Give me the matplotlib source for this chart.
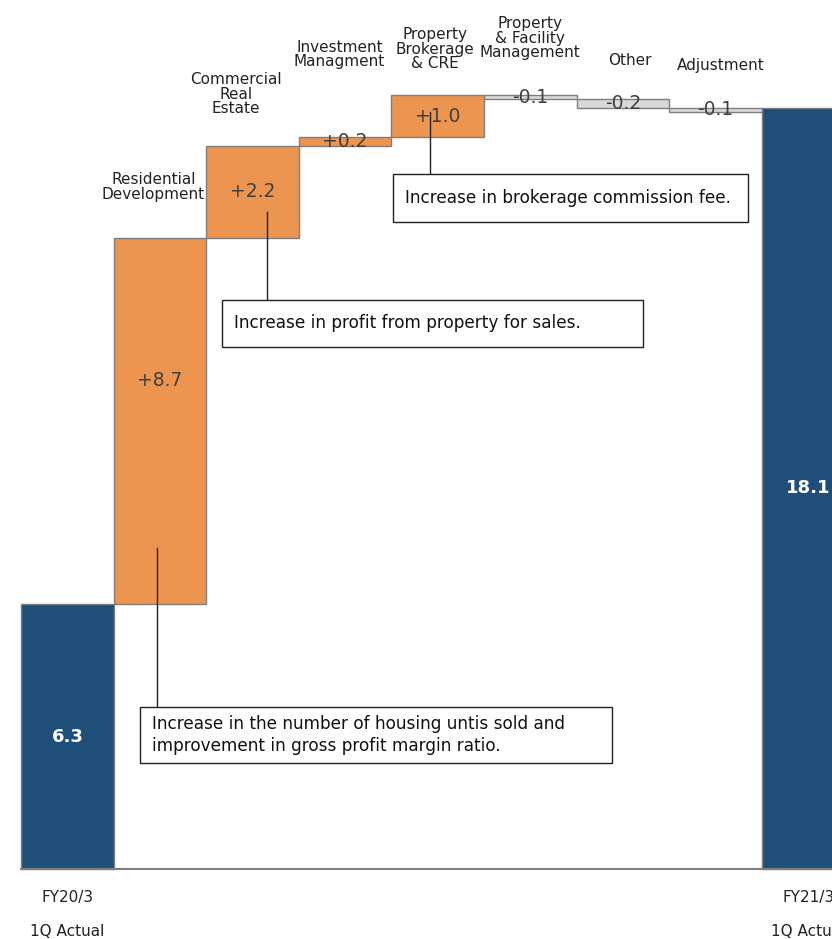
import numpy as np
import matplotlib.pyplot as plt
from matplotlib.patches import Rectangle

# Segment bridge: FY20/3 1Q -> FY21/3 1Q
start_value = 6.3
end_value = 18.1
segments = ["Residential\nDevelopment", "Commercial\nReal\nEstate",
            "Investment\nManagment", "Property\nBrokerage\n& CRE",
            "Property\n& Facility\nManagement", "Other", "Adjustment"]
changes = [8.7, 2.2, 0.2, 1.0, -0.1, -0.2, -0.1]
period_names = ["FY20/3", "FY21/3"]
period_sub = ["1Q Actual", "1Q Actual"]
notes = [
    "Increase in brokerage commission fee.",
    "Increase in profit from property for sales.",
    "Increase in the number of housing untis sold and\nimprovement in gross profit margin ratio.",
]

NAVY = "#1F4E79"
ORANGE = "#EB9550"
LIGHT = "#D9D9D9"
EDGE = "#7F7F7F"
TXT = "#404040"

plt.rcParams["font.family"] = ["DejaVu Sans"]
narrow = ["Liberation Sans Narrow", "DejaVu Sans"]

fig = plt.figure(figsize=(8.32, 9.39), dpi=100)
ax = fig.add_axes([0, 0, 1, 1])
ax.set_xlim(-0.727, 8.258)
ax.set_ylim(-1.664, 20.66)
ax.axis("off")

# totals
ax.bar(0, start_value, width=1.0, color=NAVY, edgecolor=EDGE, linewidth=1)
ax.bar(8, end_value, width=1.0, color=NAVY, edgecolor=EDGE, linewidth=1)
ax.text(0, start_value / 2, f"{start_value:.1f}", color="white", fontsize=13,
        fontweight="bold", ha="center", va="center")
ax.text(8, end_value / 2, f"{end_value:.1f}", color="white", fontsize=13,
        fontweight="bold", ha="center", va="center")

# floating steps
cum = np.concatenate([[start_value], start_value + np.cumsum(changes)])
label_frac = [0.61, 0.5, 0.5, 0.5, 0.5, 0.5, 0.5]
for i, d in enumerate(changes):
    x = i + 1
    bottom = min(cum[i], cum[i + 1])
    ax.bar(x, abs(d), bottom=bottom, width=1.0,
           color=ORANGE if d > 0 else LIGHT, edgecolor=EDGE, linewidth=1)
    ax.text(x, bottom + abs(d) * label_frac[i], f"{d:+.1f}", color=TXT,
            fontsize=13.5, ha="center", va="center")

# segment names above the steps
name_pos = [(0.93, 15.86), (1.82, 17.9), (2.94, 19.02), (3.97, 18.97),
            (5.0, 19.23), (6.07, 19.04), (7.06, 18.93)]
for name, (x, y) in zip(segments, name_pos):
    ax.text(x, y, name, family=narrow, fontsize=11, ha="center", va="bottom",
            linespacing=0.95, color="#222222")

# baseline
ax.plot([-0.5, 8.5], [0, 0], color=EDGE, linewidth=1.5, zorder=3)

# period labels under the totals
for x, name, sub in zip([0, 8], period_names, period_sub):
    ax.text(x, -0.666, name, fontsize=11, ha="center", va="center", color="#222222")
    ax.text(x, -1.474, sub, fontsize=11, ha="center", va="center", color="#222222")

# callout boxes with leader lines
callouts = [
    # (box x0, x1, y0, y1, line x, line top, text)
    (3.517, 7.351, 15.38, 16.52, 3.917, 18.0, notes[0]),
    (1.670, 6.217, 12.41, 13.53, 2.156, 15.62, notes[1]),
    (0.785, 5.882, 2.52, 3.85, 0.968, 7.63, notes[2]),
]
for x0, x1, y0, y1, lx, ltop, text in callouts:
    ax.plot([lx, lx], [y1, ltop], color="#222222", linewidth=1, zorder=4)
    ax.add_patch(Rectangle((x0, y0), x1 - x0, y1 - y0, facecolor="white",
                           edgecolor="#222222", linewidth=1, zorder=4))
    ax.text(x0 + 0.125, (y0 + y1) / 2, text, fontsize=12.2, ha="left",
            va="center", color="#111111", zorder=5, linespacing=1.22)

fig.savefig("out.png", dpi=100)
